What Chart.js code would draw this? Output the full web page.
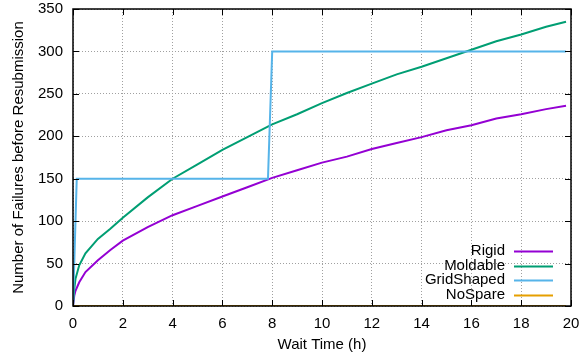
<!DOCTYPE html>
<html>
<head>
<meta charset="utf-8">
<script src="https://cdn.jsdelivr.net/npm/chart.js@4/dist/chart.umd.min.js"></script>
<style>
html,body{margin:0;padding:0;background:#fff;}
#wrap{width:580px;height:355px;}
</style>
</head>
<body>
<div id="wrap"><canvas id="c" width="580" height="355"></canvas></div>
<script>
// ---- data ----
const seriesNames = ["Rigid", "Moldable", "GridShaped", "NoSpare"];
const seriesColors = ["#9400D3", "#009E73", "#56B4E9", "#E69F00"];

const curveX   = [0, 0.05, 0.1, 0.25, 0.5, 1, 1.5, 2, 3, 4, 5, 6, 7, 8, 9, 10, 11, 12, 13, 14, 15, 16, 17, 18, 19, 19.8];
const rigid    = [0, 12, 18, 28, 40, 54, 66, 77, 93, 107, 118, 129, 140, 151, 160, 169, 176, 185, 192, 199, 207, 213, 221, 226, 232, 236];
const moldable = [0, 20, 32, 48, 62, 79, 91, 104, 128, 150, 167, 184, 199, 214, 226, 239, 251, 262, 273, 282, 292, 302, 312, 320, 329, 335];

const gridX      = [0, 0.15, 7.83, 8.0, 19.8];
const gridShaped = [0, 150, 150, 300, 300];

const noSpareX = [0, 19.8];
const noSpare  = [0, 0];

const xTickStep = 2, xMin = 0, xMax = 20;
const yTickStep = 50, yMin = 0, yMax = 350;
const xTitle = "Wait Time (h)";
const yTitle = "Number of Failures before Resubmission";

const pts = (xs, ys) => xs.map((x, i) => ({x: x, y: ys[i]}));

const FONT = "'Liberation Sans', Arial, sans-serif";
const FS = 15;

const frameAndLegend = {
  id: 'frameAndLegend',
  afterDraw(chart) {
    const ctx = chart.ctx;
    const a = chart.chartArea;
    const xs = chart.scales.x, ys = chart.scales.y;
    ctx.save();
    ctx.strokeStyle = '#000';
    ctx.lineWidth = 1;
    const tl = 6;
    ctx.beginPath();
    xs.ticks.forEach(t => {
      const px = Math.round(xs.getPixelForValue(t.value)) + 0.5;
      ctx.moveTo(px, a.bottom); ctx.lineTo(px, a.bottom - tl);
      ctx.moveTo(px, a.top); ctx.lineTo(px, a.top + tl);
    });
    ys.ticks.forEach(t => {
      const py = Math.round(ys.getPixelForValue(t.value)) + 0.5;
      ctx.moveTo(a.left, py); ctx.lineTo(a.left + tl, py);
      ctx.moveTo(a.right, py); ctx.lineTo(a.right - tl, py);
    });
    ctx.stroke();
    ctx.lineWidth = 1.5;
    ctx.strokeRect(a.left, a.top, a.right - a.left, a.bottom - a.top);
    // legend
    ctx.font = FS + 'px ' + FONT;
    ctx.textAlign = 'right';
    ctx.textBaseline = 'middle';
    const lineRight = a.right - 18;
    const lineLeft = lineRight - 39;
    const textRight = lineLeft - 9;
    const rowH = 14.7;
    const firstRow = a.bottom - 11 - rowH * 3;
    chart.data.datasets.forEach((ds, i) => {
      const y = firstRow + i * rowH;
      ctx.fillStyle = '#000';
      ctx.fillText(ds.label, textRight, y);
      ctx.strokeStyle = ds.borderColor;
      ctx.lineWidth = 2;
      ctx.beginPath();
      ctx.moveTo(lineLeft, Math.round(y) + 0.5);
      ctx.lineTo(lineRight, Math.round(y) + 0.5);
      ctx.stroke();
    });
    ctx.restore();
  }
};

const mk = (i, data, order) => ({
  label: seriesNames[i],
  data: data,
  borderColor: seriesColors[i],
  backgroundColor: seriesColors[i],
  borderWidth: 2,
  pointRadius: 0,
  tension: 0,
  fill: false,
  order: order
});

new Chart(document.getElementById('c'), {
  type: 'line',
  data: {
    datasets: [
      mk(0, pts(curveX, rigid), 4),
      mk(1, pts(curveX, moldable), 3),
      mk(2, pts(gridX, gridShaped), 2),
      mk(3, pts(noSpareX, noSpare), 1)
    ]
  },
  options: {
    responsive: false,
    animation: false,
    devicePixelRatio: 1,
    layout: { padding: { top: 9, right: 9, left: 0, bottom: 0 } },
    plugins: { legend: { display: false }, tooltip: { enabled: false } },
    scales: {
      x: {
        type: 'linear',
        min: xMin, max: xMax,
        ticks: { stepSize: xTickStep, color: '#000', padding: 9, font: { family: FONT, size: FS } },
        grid: { color: '#a0a0a0', lineWidth: 1, drawTicks: false },
        border: { display: false, dash: [1, 2] },
        title: { display: true, text: xTitle, color: '#000', font: { family: FONT, size: FS }, padding: { top: 2, bottom: 1 } },
        afterFit: s => { s.height = 49; s.paddingLeft = 0; s.paddingRight = 0; }
      },
      y: {
        type: 'linear',
        min: yMin, max: yMax,
        ticks: { stepSize: yTickStep, color: '#000', padding: 10, font: { family: FONT, size: FS } },
        grid: { color: '#a0a0a0', lineWidth: 1, drawTicks: false },
        border: { display: false, dash: [1, 2] },
        title: { display: true, text: yTitle, color: '#000', font: { family: FONT, size: FS }, padding: { top: 10, bottom: 0 } },
        afterFit: s => { s.width = 73; s.paddingTop = 0; s.paddingBottom = 0; }
      }
    }
  },
  plugins: [frameAndLegend]
});
</script>
</body>
</html>
